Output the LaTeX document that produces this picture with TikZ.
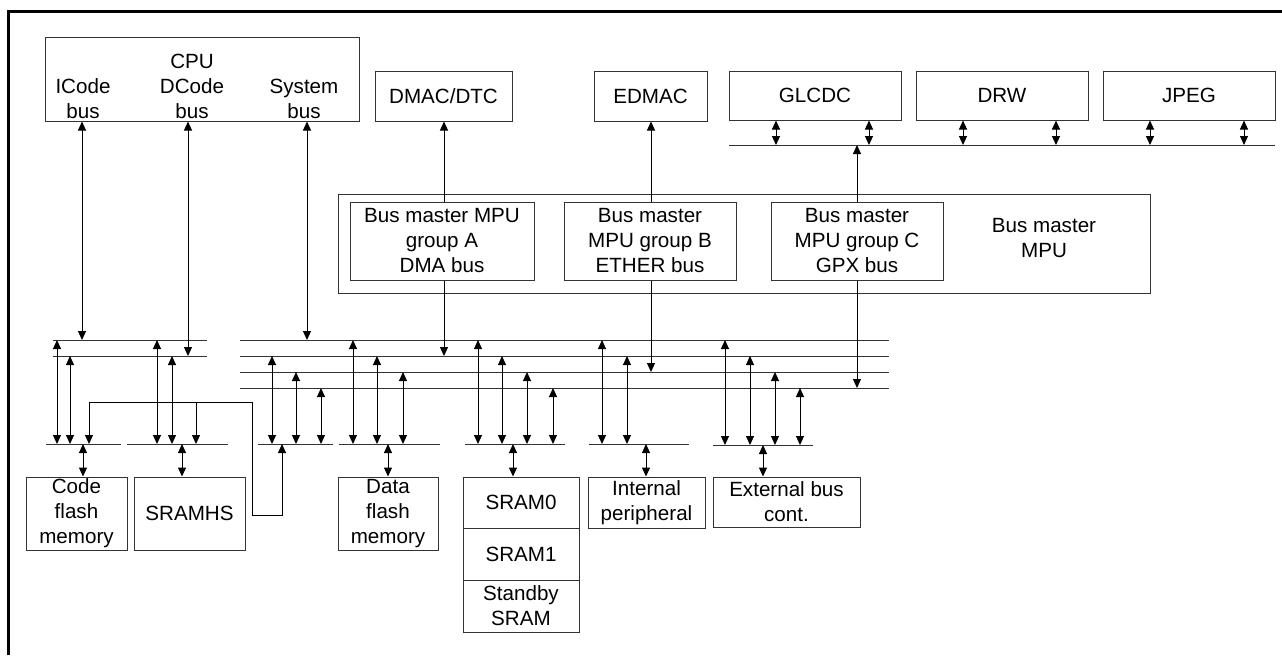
\documentclass[tikz,border=0pt]{standalone}
\usepackage{fontspec}
\setmainfont{Liberation Sans}
\usetikzlibrary{arrows.meta, positioning}

\begin{document}
\begin{tikzpicture}[
  x=0.5pt, y=-0.5pt,
  font=\fontsize{10.3}{12.5}\selectfont,
  box/.style={rectangle, draw=black!80, line width=0.5pt, inner sep=0pt, align=center},
  lbl/.style={inner sep=0pt, align=center},
  rail/.style={draw=black!80, line width=0.5pt},
  arr/.style={-{Triangle[length=4.5pt, width=4pt]}, line width=0.5pt},
  dbl/.style={{Triangle[length=4.5pt, width=4pt]}-{Triangle[length=4.5pt, width=4pt]}, line width=0.5pt}
]
\useasboundingbox (0,0) rectangle (1282,655);
\draw[line width=1.5pt] (8,655) |- (1282,11);

% masters
\node[box, minimum width=157pt, minimum height=42pt] (cpu) at (202,79) {};
\node[lbl] (icode) at (83,99) {ICode\\bus};
\node[lbl] (dcode) at (192,86) {CPU\\DCode\\bus};
\node[lbl] (sysbus) at (304,99) {System\\bus};
\node[box, minimum width=68.5pt, minimum height=25pt] (dmac) at (443.5,96) {DMAC/DTC};
\node[box, minimum width=56.5pt, minimum height=25pt] (edmac) at (650.5,96) {EDMAC};
\node[box, minimum width=86pt, minimum height=24.5pt] (glcdc) at (815,95.5) {GLCDC};
\node[box, minimum width=86pt, minimum height=24.5pt] (drw) at (1002,95.5) {DRW};
\node[box, minimum width=86pt, minimum height=24.5pt] (jpeg) at (1189,95.5) {JPEG};

% bus master MPU
\node[box, minimum width=406pt, minimum height=49.5pt] (mpubox) at (744,243.5) {};
\node[lbl] (mpu) at (1044,238) {Bus master\\MPU};
\node[box, minimum width=92pt, minimum height=39pt] (grpA) at (442,241) {Bus master MPU\\group A\\DMA bus};
\node[box, minimum width=86pt, minimum height=39pt] (grpB) at (650,241) {Bus master\\MPU group B\\ETHER bus};
\node[box, minimum width=86pt, minimum height=39pt] (grpC) at (857,241) {Bus master\\MPU group C\\GPX bus};

% slaves
\node[box, minimum width=50.5pt, minimum height=36.5pt] (cf) at (76.5,513.5) {Code\\flash\\memory};
\node[box, minimum width=55.5pt, minimum height=36.5pt] (hs) at (189.5,513.5) {SRAMHS};
\node[box, minimum width=50pt, minimum height=36.5pt] (df) at (388,513.5) {Data\\flash\\memory};
\node[box, minimum width=58pt, minimum height=25.5pt] (sram0) at (521,502.5) {SRAM0};
\node[box, minimum width=58pt, minimum height=26pt] (sram1) at (521,554) {SRAM1};
\node[box, minimum width=58pt, minimum height=26pt] (sbsram) at (521,606) {Standby\\SRAM};
\node[box, minimum width=58.5pt, minimum height=25.5pt] (ip) at (646.5,502.5) {Internal\\peripheral};
\node[box, minimum width=73.5pt, minimum height=25pt] (eb) at (786.5,502) {External bus\\cont.};

% bus rails
\foreach \n/\y in {1/340, 2/356} {
  \coordinate (L\n) at (53,\y);
  \draw[rail] (L\n) -- ++(154,0);
}
\foreach \n/\y in {1/340, 2/356, 3/372, 4/388} {
  \coordinate (M\n) at (240,\y);
  \draw[rail] (M\n) -- ++(649,0);
}
\coordinate (P) at (729,145);
\draw[rail] (P) -- ++(546,0);
\foreach \s/\xa/\xb/\y in {cfb/46/121/444, hsb/127/228/444, s1b/258/333/444, dfb/339/440/444,
                           srb/465/565/444, ipb/589/689/444, ebb/713/813/445} {
  \coordinate (\s) at (\xa,\y);
  \draw[rail] (\s) -- (\xb,\y);
}

% connections
\foreach \x/\r in {82/L1, 188/L2, 307/M1}
  \draw[dbl] (\x,0 |- cpu.south) -- (\x,0 |- \r);
\foreach \x/\r/\s in {57/L1/cfb, 70/L2/cfb, 157/L1/hsb, 172/L2/hsb,
                      272/M2/s1b, 296/M3/s1b, 321/M4/s1b,
                      353/M1/dfb, 377/M2/dfb, 403/M3/dfb,
                      478/M1/srb, 502/M2/srb, 527/M3/srb, 553/M4/srb,
                      602/M1/ipb, 627/M2/ipb,
                      725/M1/ebb, 750/M2/ebb, 775/M3/ebb, 800/M4/ebb}
  \draw[dbl] (\x,0 |- \r) -- (\x,0 |- \s);
\foreach \x/\s/\b in {83/cfb/cf, 182/hsb/hs, 388/dfb/df, 513/srb/sram0, 646/ipb/ip, 763/ebb/eb}
  \draw[dbl] (\x,0 |- \s) -- (\x,0 |- \b.north);
\foreach \x/\g/\t/\r in {444/grpA/dmac.south/M2, 651/grpB/edmac.south/M3, 857/grpC/P/M4} {
  \draw[arr] (\x,0 |- \g.north) -- (\x,0 |- \t);
  \draw[arr] (\x,0 |- \g.south) -- (\x,0 |- \r);
}
\foreach \x/\b in {776/glcdc, 869/glcdc, 963/drw, 1056/drw, 1150/jpeg, 1244/jpeg}
  \draw[dbl] (\x,0 |- \b.south) -- (\x,0 |- P);

% feed to code flash and SRAMHS
\coordinate (feed) at (252,402);
\draw[dbl] (89,0 |- cfb) |- (feed) -- ++(0,113) -| (282,0 |- s1b);
\draw[arr] (196,0 |- feed) -- (196,0 |- hsb);
\end{tikzpicture}
\end{document}
